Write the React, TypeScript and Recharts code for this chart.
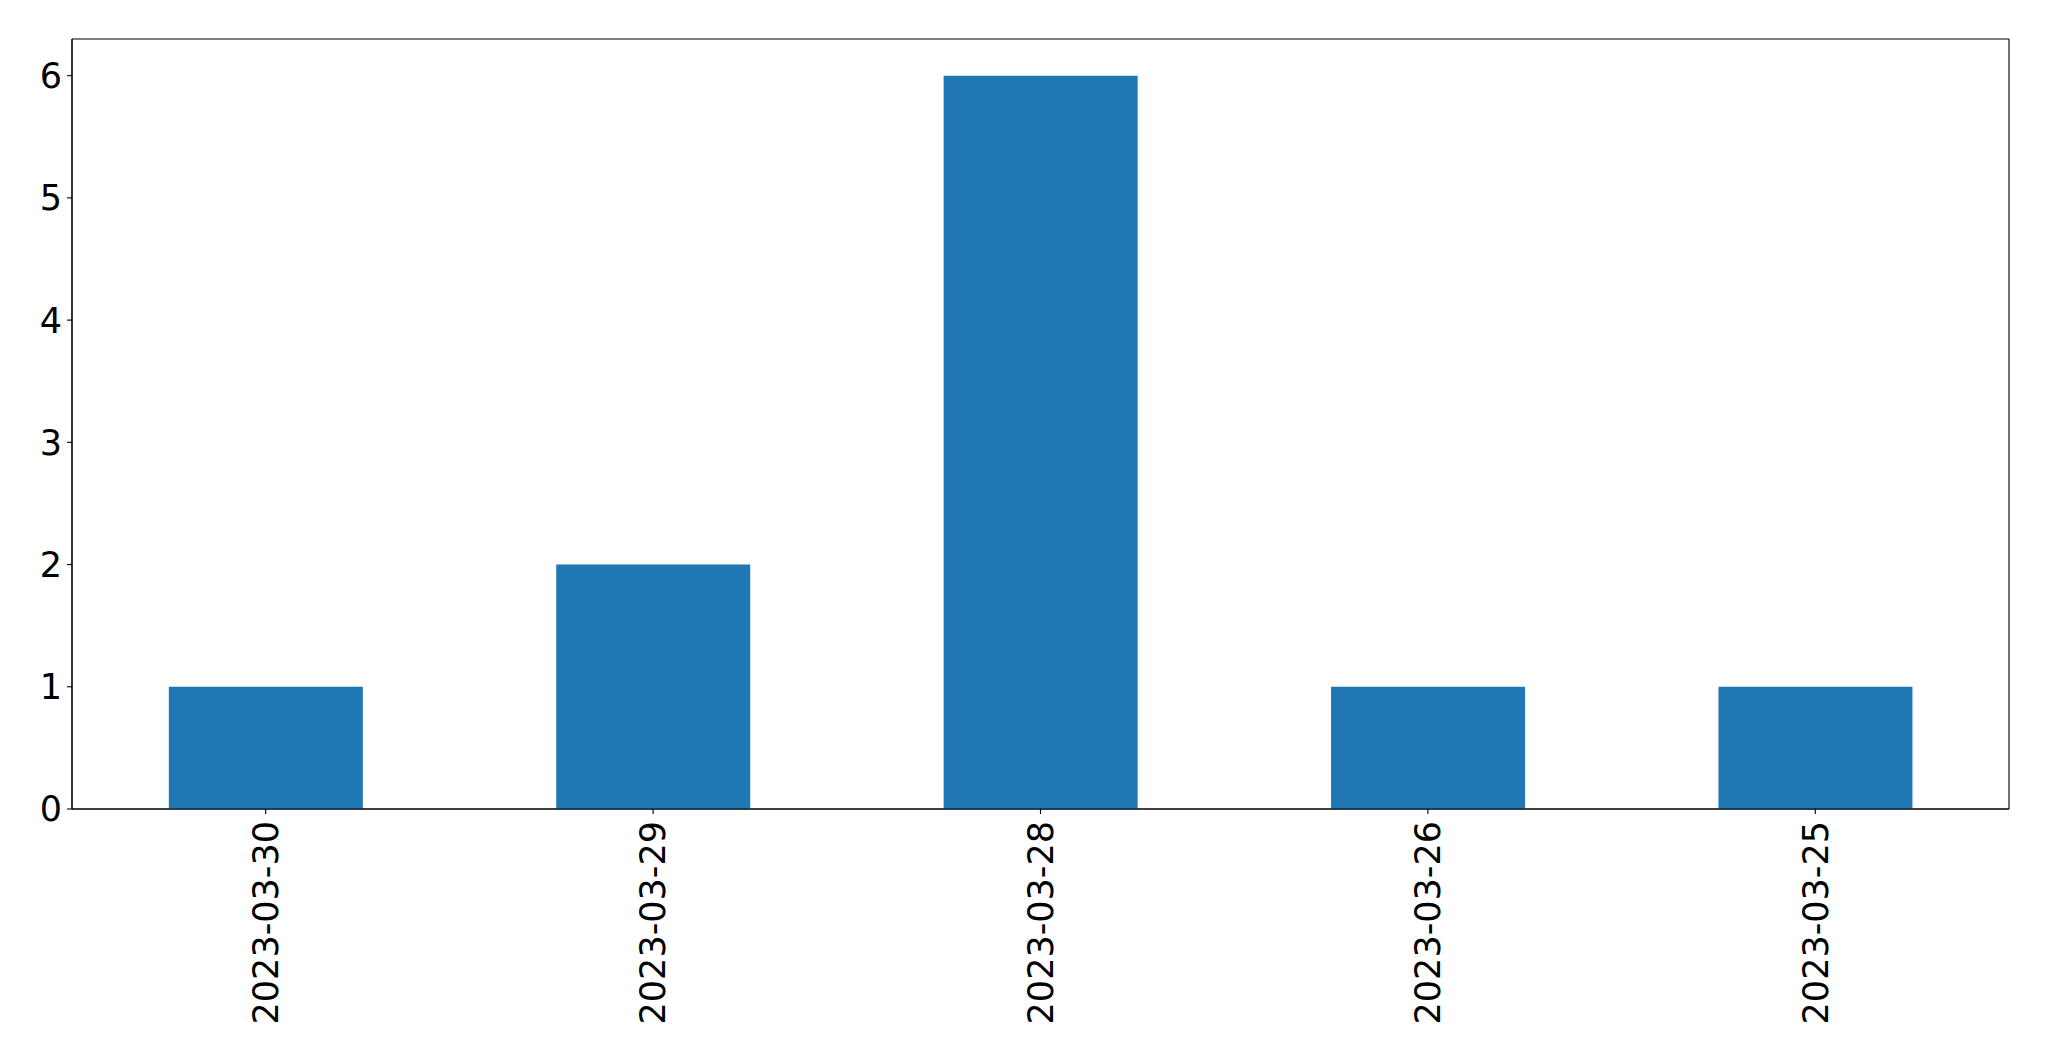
import React from "react"
import { BarChart, Bar, XAxis, YAxis, CartesianGrid } from "recharts"

const dates = ["2023-03-30", "2023-03-29", "2023-03-28", "2023-03-26", "2023-03-25"]
const counts = [1, 2, 6, 1, 1]
const yTicks = [0, 1, 2, 3, 4, 5, 6]

const data = dates.map((d, i) => ({ date: d, count: counts[i] }))

const FONT = "'DejaVu Sans', sans-serif"
const FONT_SIZE = 35

const DateTick = (props: any) => {
 const { x, y, payload } = props
 return (
  <text
   x={x}
   y={y}
   transform={`rotate(-90, ${x}, ${y})`}
   textAnchor="end"
   dy="0.35em"
   fontSize={FONT_SIZE}
   fontFamily={FONT}
   fill="#000">
   {payload.value}
  </text>
 )
}

// plot frame: grid lines only at the edges of the plot area
const frameRows = ({ offset }: any) => [offset.top, offset.top + offset.height]
const frameCols = ({ offset }: any) => [offset.left, offset.left + offset.width]

export default function App() {
 return (
  <div style={{ position: "absolute", left: 0, top: 0, width: 2049, height: 1061, background: "#fff" }}>
   <BarChart
    width={2049}
    height={1061}
    data={data}
    margin={{ top: 39, right: 40, left: 0, bottom: 0 }}
    barCategoryGap="25%">
    <CartesianGrid
     stroke="#000"
     strokeWidth={1.1}
     horizontalCoordinatesGenerator={frameRows}
     verticalCoordinatesGenerator={frameCols}
    />
    <XAxis
     dataKey="date"
     height={252}
     tickSize={5}
     tickMargin={7}
     interval={0}
     stroke="#000"
     strokeWidth={1.1}
     tick={<DateTick />}
    />
    <YAxis
     width={72}
     domain={[0, 6.3]}
     ticks={yTicks}
     tickSize={5}
     tickMargin={5}
     stroke="#000"
     strokeWidth={1.1}
     tick={{ fontSize: FONT_SIZE, fill: "#000", fontFamily: FONT }}
    />
    <Bar dataKey="count" fill="#1f77b4" isAnimationActive={false} />
   </BarChart>
  </div>
 )
}
